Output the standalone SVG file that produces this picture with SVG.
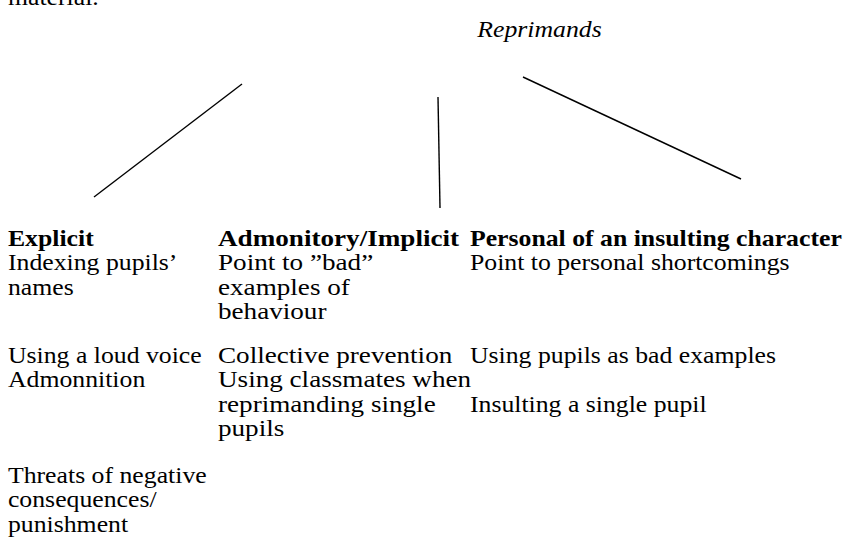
<svg xmlns="http://www.w3.org/2000/svg" width="847" height="547" viewBox="0 0 847 547">
<style>
  text { font-family: "Liberation Serif", "Times New Roman", serif; font-size: 23px; fill: #000; }
  .h { font-weight: bold; }
  .it { font-style: italic; }
  .conn line { stroke: #000; stroke-width: 1.4; fill: none; }
</style>
<rect width="847" height="547" fill="#fff"/>
<g transform="scale(1.12,1)">
  <g id="caption"><text x="7.1" y="4.5">material.</text></g>
  <g id="root"><text class="it" x="481.7" y="37" text-anchor="middle">Reprimands</text></g>
  <g id="explicit">
    <text class="h" x="7.1" y="246">Explicit</text>
    <text x="7.1" y="270.5">Indexing pupils’</text>
    <text x="7.1" y="295">names</text>
    <text x="7.1" y="363">Using a loud voice</text>
    <text x="7.1" y="387.5">Admonnition</text>
    <text x="7.1" y="483">Threats of negative</text>
    <text x="7.1" y="507.5">consequences/</text>
    <text x="7.1" y="532">punishment</text>
  </g>
  <g id="personal">
    <text class="h" x="419.6" y="246">Personal of an insulting character</text>
    <text x="419.6" y="270.5">Point to personal shortcomings</text>
    <text x="419.6" y="363">Using pupils as bad examples</text>
    <text x="419.6" y="412">Insulting a single pupil</text>
  </g>
</g>
<g id="implicit" transform="translate(218,0) scale(1.18,1)">
  <text class="h" x="0" y="246">Admonitory/Implicit</text>
  <text x="0" y="270.5">Point to ”bad”</text>
  <text x="0" y="295">examples of</text>
  <text x="0" y="319.5">behaviour</text>
  <text x="0" y="363">Collective prevention</text>
  <text x="0" y="387.5">Using classmates when</text>
  <text x="0" y="412">reprimanding single</text>
  <text x="0" y="436.5">pupils</text>
</g>
<g id="connectors" class="conn">
  <line x1="242" y1="84" x2="94" y2="197"/>
  <line x1="438" y1="97" x2="440" y2="208"/>
  <line x1="523" y1="77" x2="741" y2="179"/>
</g>
</svg>
